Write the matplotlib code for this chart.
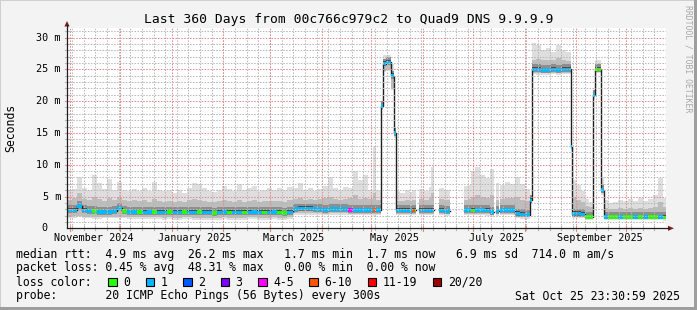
import numpy as np
import pandas as pd
import matplotlib
matplotlib.use("Agg")
import matplotlib.pyplot as plt
import matplotlib.dates as mdates
from matplotlib.patches import Rectangle, Polygon
from datetime import datetime, timedelta

plt.rcParams['font.family'] = ['DejaVu Sans Mono']

title = "Last 360 Days from 00c766c979c2 to Quad9 DNS 9.9.9.9"
start = datetime(2024, 10, 30, 23, 30, 59)
span_days = 360

# sample start (days after start), values in ms
day = [0, 3, 6, 9, 12, 15, 18, 21, 24, 27, 30, 33, 36, 39, 42, 45, 48, 51, 54, 57, 60, 63, 66,
       69, 72, 75, 78, 81, 84, 87, 90, 93, 96, 99, 102, 105, 108, 111, 114, 117, 120, 123, 126,
       129, 132,
       136, 139, 142, 145, 148, 151, 154, 157, 160, 163, 166, 169, 172, 175, 178, 181, 184, 186,
       188.7, 189.9, 192, 194.7, 196.3,
       197.5, 200, 203, 206, 207.5, 209, 210,
       211.5, 214.5, 217.5, 219, 220.5,
       223.6, 226.6, 229.9,
       238.6, 241, 243, 245.5, 248.5, 251.5, 254, 256.5, 258, 259.5,
       260.5, 263, 266, 269, 272, 275, 278, 278.5,
       279.2, 282, 285, 288, 291, 294, 297, 300, 302.9,
       303.6, 306, 309, 311.4, 314, 316.4, 317.6, 319.5, 321.2,
       322.5, 325, 328, 331, 334, 337, 340, 343, 346, 349, 352, 355, 358]

nan = float('nan')

median = [2.8, 2.8, 3.5, 2.8, 2.7, 2.7, 2.6, 2.6, 2.6, 2.7, 3.2, 2.7, 2.6, 2.6, 2.6, 2.5, 2.6, 2.6,
          2.5, 2.5, 2.6, 2.5, 2.5, 2.6, 2.5, 2.5, 2.6, 2.5, 2.5, 2.4, 2.5, 2.6, 2.5, 2.5, 2.5, 2.5,
          2.5, 2.6, 2.5, 2.5, 2.5, 2.6, 2.5, 2.4, 2.5,
          3.0, 3.1, 3.1, 3.1, 3.0, 3.0, 2.9, 3.0, 3.0, 3.0, 3.0, 2.9, 2.9, 2.9, 2.9, 2.9, 2.9, 2.9,
          19.2, 25.9, 26.1, 24.0, 15.0,
          2.8, 2.8, 2.8, 2.7, 2.8, 2.8, nan,
          2.8, 2.8, 2.8, 2.8, nan,
          2.8, 2.7, nan,
          2.9, 2.9, 2.8, 2.9, 2.9, 2.8, 2.6, nan, 2.7, nan,
          2.9, 2.9, 2.9, 2.3, 2.2, 2.1, 2.1, 4.4,
          25.0, 25.0, 24.9, 24.9, 25.0, 24.9, 25.0, 25.0, 12.8,
          2.3, 2.3, 2.2, 1.8, 1.8, 21.0, 25.0, 25.0, 6.0,
          1.8, 1.8, 1.8, 1.8, 1.8, 1.8, 1.8, 1.8, 1.8, 1.8, 1.8, 1.8, 1.7]

smoke_lo = [1.9, 1.9, 2.0, 1.8, 1.8, 1.7, 1.7, 1.8, 1.8, 1.8, 1.8, 1.8, 1.7, 1.7, 1.7, 1.7, 1.7,
            1.7, 1.7, 1.6, 1.7, 1.6, 1.6, 1.7, 1.7, 1.6, 1.6, 1.6, 1.6, 1.6, 1.6, 1.7, 1.6, 1.6,
            1.6, 1.6, 1.7, 1.7, 1.6, 1.6, 1.6, 1.7, 1.6, 1.6, 1.7,
            2.4, 2.4, 2.4, 2.4, 2.4, 2.4, 2.3, 2.4, 2.4, 2.4, 2.4, 2.3, 2.3, 2.3, 2.3, 2.3, 2.2, 2.3,
            18.8, 24.8, 25.0, 22.0, 14.5,
            2.3, 2.3, 2.3, 2.2, 2.3, 2.3, nan,
            2.3, 2.3, 2.3, 2.3, nan,
            2.3, 2.2, nan,
            2.3, 2.3, 2.3, 2.3, 2.3, 2.2, 2.1, nan, 2.2, nan,
            2.3, 2.3, 2.3, 1.8, 1.7, 1.7, 1.7, 4.0,
            24.5, 24.4, 24.4, 24.4, 24.5, 24.4, 24.5, 24.5, 12.4,
            1.8, 1.8, 1.8, 1.5, 1.5, 20.6, 24.6, 24.6, 5.5,
            1.5, 1.5, 1.5, 1.5, 1.5, 1.5, 1.5, 1.5, 1.5, 1.5, 1.5, 1.5, 1.4]

smoke_mid = [4.5, 4.8, 5.5, 4.6, 4.5, 5.0, 4.6, 4.3, 4.8, 4.4, 4.9, 4.4, 4.3, 4.4, 4.3, 4.4, 4.2,
             4.6, 4.3, 4.2, 4.3, 4.2, 4.3, 4.1, 4.4, 4.6, 4.5, 4.3, 4.2, 4.1, 4.3, 4.5, 4.3, 4.2,
             4.4, 4.2, 4.3, 4.4, 4.2, 4.3, 4.3, 4.3, 4.3, 4.2, 4.4,
             4.6, 4.7, 4.5, 4.6, 4.5, 4.6, 4.8, 5.0, 4.6, 4.5, 4.6, 4.7, 5.2, 4.6, 4.8, 4.6, 5.5, 4.5,
             19.6, 26.6, 26.8, 24.8, 15.6,
             4.3, 4.3, 4.5, 4.3, 4.4, 4.4, nan,
             4.6, 4.4, 4.8, 5.5, nan,
             4.6, 4.4, nan,
             4.5, 4.6, 5.0, 5.2, 5.0, 4.8, 5.2, nan, 4.5, nan,
             4.6, 4.8, 4.7, 4.9, 4.5, 4.3, 4.4, 4.8,
             26.5, 26.6, 26.4, 26.5, 26.4, 26.8, 26.4, 26.3, 13.0,
             5.0, 4.5, 4.2, 3.5, 3.3, 21.5, 25.8, 25.9, 7.0,
             3.2, 3.0, 3.1, 3.2, 3.1, 3.2, 3.1, 3.2, 3.1, 3.2, 3.4, 4.2, 3.3]

smoke_hi = [6.0, 6.2, 8.1, 6.4, 6.0, 8.4, 7.2, 6.2, 7.7, 6.0, 7.3, 6.1, 5.8, 6.2, 5.9, 6.3, 5.8,
            7.3, 6.1, 5.8, 6.0, 5.6, 6.0, 5.5, 6.3, 7.2, 7.0, 6.4, 5.9, 5.7, 6.0, 6.7, 6.2, 5.8,
            6.9, 6.0, 6.3, 6.7, 5.9, 6.1, 6.3, 6.1, 6.3, 6.0, 6.5,
            6.4, 7.1, 6.0, 6.3, 5.9, 6.2, 6.6, 8.0, 6.4, 6.0, 6.5, 6.3, 9.0, 7.6, 8.4, 6.0, 12.8, 6.0,
            19.8, 27.2, 27.3, 25.8, 16.0,
            5.8, 5.6, 6.0, 5.7, 6.0, 5.8, nan,
            6.2, 5.8, 6.5, 9.7, nan,
            6.3, 6.0, nan,
            6.7, 6.8, 9.0, 9.6, 8.4, 7.9, 9.3, nan, 7.2, nan,
            6.8, 7.3, 7.0, 8.0, 6.9, 6.2, 6.5, 5.0,
            29.1, 28.8, 28.0, 28.3, 27.8, 28.8, 28.0, 27.8, 13.2,
            7.6, 6.8, 5.8, 4.6, 4.2, 21.8, 26.5, 26.5, 8.0,
            4.4, 4.0, 4.2, 4.5, 4.3, 4.6, 4.3, 4.7, 4.3, 4.6, 5.2, 7.9, 4.8]

# loss class index per sample (into loss_labels)
loss = [1, 1, 1, 1, 1, 0, 1, 1, 1, 1, 1, 0, 1, 1, 0, 1, 1, 0, 1, 1, 0, 1, 1, 0, 1, 1, 0, 1, 1, 0,
        1, 1, 0, 1, 1, 0, 1, 1, 1, 0, 1, 1, 0, 0, 1,
        1, 1, 1, 1, 1, 1, 1, 1, 1, 1, 1, 4, 1, 1, 1, 1, 5, 1,
        1, 1, 1, 1, 1,
        1, 1, 1, 1, 5, 0, 1,
        1, 1, 1, 1, 1,
        1, 1, 1,
        1, 1, 0, 1, 1, 1, 1, 1, 1, 1,
        1, 1, 1, 1, 1, 1, 1, 1,
        1, 1, 1, 1, 1, 1, 1, 1, 1,
        1, 1, 1, 0, 0, 1, 0, 0, 1,
        1, 0, 0, 1, 0, 0, 1, 0, 1, 0, 0, 1, 0]

loss_labels = ["0", "1", "2", "3", "4-5", "6-10", "11-19", "20/20"]
loss_colors = ["#26ff00", "#00b8ff", "#0059ff", "#7e00ff", "#ff00ff", "#ff5500", "#ff0000", "#a10000"]

ytick_vals = [0, 5, 10, 15, 20, 25, 30]
ytick_labels = ["0", "5 m", "10 m", "15 m", "20 m", "25 m", "30 m"]
month_labels = [(2024, 11), (2025, 1), (2025, 3), (2025, 5), (2025, 7), (2025, 9)]

legend_lines = [
    "median rtt:  4.9 ms avg  26.2 ms max   1.7 ms min  1.7 ms now   6.9 ms sd  714.0 m am/s",
    "packet loss: 0.45 % avg  48.31 % max   0.00 % min  0.00 % now",
]
probe_text = "probe:       20 ICMP Echo Pings (56 Bytes) every 300s"
stamp_text = "Sat Oct 25 23:30:59 2025"

n = len(day)
assert all(len(a) == n for a in [median, smoke_lo, smoke_mid, smoke_hi, loss])

W, H = 697, 310
fig = plt.figure(figsize=(W / 100, H / 100), dpi=100, facecolor="#f3f3f3")
L, R, T, B = 67, 666, 28, 228.3
YMAX = 31.5
ax = fig.add_axes([L / W, 1 - B / H, (R - L) / W, (B - T) / H])
ax.set_facecolor("white")
for s in ax.spines.values():
    s.set_visible(False)
ax.set_xticks([])
ax.set_yticks([])

t0 = mdates.date2num(start)
x = t0 + np.array(day, dtype=float)
edges = np.append(x, t0 + span_days)
med = np.array(median, dtype=float)
lo = np.array(smoke_lo, dtype=float)
mid = np.array(smoke_mid, dtype=float)
hi = np.array(smoke_hi, dtype=float)
lc = np.array(loss)

xs = np.repeat(edges, 2)[1:-1]


def steps(v):
    return np.repeat(v, 2)


# smoke
ax.fill_between(xs, steps(lo - 0.25), steps(hi), color="#dedede", lw=0, zorder=1)
ax.fill_between(xs, steps(lo), steps(mid), color="#bdbdbd", lw=0, zorder=2)
ax.fill_between(xs, steps(np.maximum(lo, med - 0.45)), steps(med + 0.8), color="#8e8e8e", lw=0, zorder=3)
ax.fill_between(xs, steps(med - 0.25), steps(med + 0.35), color="#4a4a4a", lw=0, zorder=4)

# median line and loss colour band
ax.plot(xs, steps(med), color="#202020", lw=1.0, zorder=5)
ok = ~np.isnan(med)
w = 0.28
ax.bar(x[ok], 2 * w, width=(edges[1:] - x)[ok], bottom=med[ok] - w, align="edge",
       color=[loss_colors[k] for k in lc[ok]], linewidth=0, zorder=6)

ax.set_xlim(t0, t0 + span_days)
ax.set_ylim(0, YMAX)

# grid (drawn on top like rrdtool)
dash = (0, (1.4, 1.4))
weeks = [mdates.date2num(d.normalize().to_pydatetime())
         for d in pd.date_range(start, start + timedelta(days=span_days), freq="W-SUN")]
months = [mdates.date2num(d.to_pydatetime())
          for d in pd.date_range(start, start + timedelta(days=span_days), freq="MS")]
for v in range(1, 32):
    if v % 5:
        ax.axhline(v, color="#b8b8b8", lw=0.75, ls=dash, zorder=7)
for v in range(5, 31, 5):
    ax.axhline(v, color="#e48a8a", lw=0.75, ls=dash, zorder=8)
for t in weeks:
    ax.axvline(t, color="#b8b8b8", lw=0.75, ls=dash, zorder=7)
for t in months:
    ax.axvline(t, color="#e48a8a", lw=0.75, ls=dash, zorder=8)

# overlay in pixel coordinates
ov = fig.add_axes([0, 0, 1, 1], facecolor="none", zorder=10)
ov.set_xlim(0, W)
ov.set_ylim(H, 0)
ov.axis("off")

# frame shading
ov.add_patch(Rectangle((0, 0), W, 1, color="#cfcfcf", lw=0))
ov.add_patch(Rectangle((0, 0), 1, H, color="#cfcfcf", lw=0))
ov.add_patch(Rectangle((0, H - 3), W, 3, color="#9e9e9e", lw=0))
ov.add_patch(Rectangle((W - 3, 0), 3, H, color="#9e9e9e", lw=0))


def ypx(v):
    return B - v * (B - T) / YMAX


def xpx(t):
    return L + (t - t0) * (R - L) / span_days


# small ticks on the axes
for v in range(1, 32):
    col = "#e48a8a" if v % 5 == 0 else "#b8b8b8"
    ov.plot([L - 2, L + 2], [ypx(v), ypx(v)], color=col, lw=0.8)
for t in weeks:
    ov.plot([xpx(t), xpx(t)], [B - 2, B + 2], color="#b8b8b8", lw=0.8)
for t in months:
    ov.plot([xpx(t), xpx(t)], [B - 2, B + 2.5], color="#e48a8a", lw=0.8)

# axes and arrows
ov.plot([L, 669], [B, B], color="#1f1f1f", lw=0.9)
ov.plot([L, L], [B, 25], color="#1f1f1f", lw=0.9)
ov.add_patch(Polygon([(668, B - 2.6), (668, B + 2.6), (674, B)], color="#801f1f", lw=0))
ov.add_patch(Polygon([(L - 2.6, 26.5), (L + 2.6, 26.5), (L, 21)], color="#801f1f", lw=0))

# y labels
for v, lab in zip(ytick_vals, ytick_labels):
    if v == 0:
        ov.text(44.5, ypx(v), lab, ha="center", va="center", fontsize=7.3)
    else:
        ov.text(61, ypx(v), lab, ha="right", va="center", fontsize=7.3)

# x labels
for yy, mm in month_labels:
    dt = datetime(yy, mm, 1) + timedelta(days=15)
    ov.text(xpx(mdates.date2num(dt)), 238, datetime(yy, mm, 1).strftime("%B %Y"),
            ha="center", va="center", fontsize=7.3)

ov.text(W / 2, 19, title, ha="center", va="center", fontsize=9.4)
ov.text(11, 128, "Seconds", ha="center", va="center", rotation=90, fontsize=8.3)
ov.text(688, 59, "RRDTOOL / TOBI OETIKER", ha="center", va="center", rotation=270,
        fontsize=5.9, color="#a8a8a8")

# legend
ov.text(16, 254.5, legend_lines[0], ha="left", va="center", fontsize=8.3)
ov.text(16, 268, legend_lines[1], ha="left", va="center", fontsize=8.3)
ov.text(16, 282, "loss color:", ha="left", va="center", fontsize=8.3)
cw = 6.94
bx = 108.3
for lab, col in zip(loss_labels, loss_colors):
    ov.add_patch(Rectangle((bx, 277.5), 8.5, 8.5, facecolor=col, edgecolor="black", lw=0.8))
    ov.text(bx + 15, 282, lab, ha="left", va="center", fontsize=8.3)
    bx = bx + 15 + len(lab) * cw + 15.5
ov.text(16, 296, probe_text, ha="left", va="center", fontsize=8.3)
ov.text(680, 296, stamp_text, ha="right", va="center", fontsize=8.3)

fig.savefig("out.png", dpi=100, facecolor=fig.get_facecolor())
